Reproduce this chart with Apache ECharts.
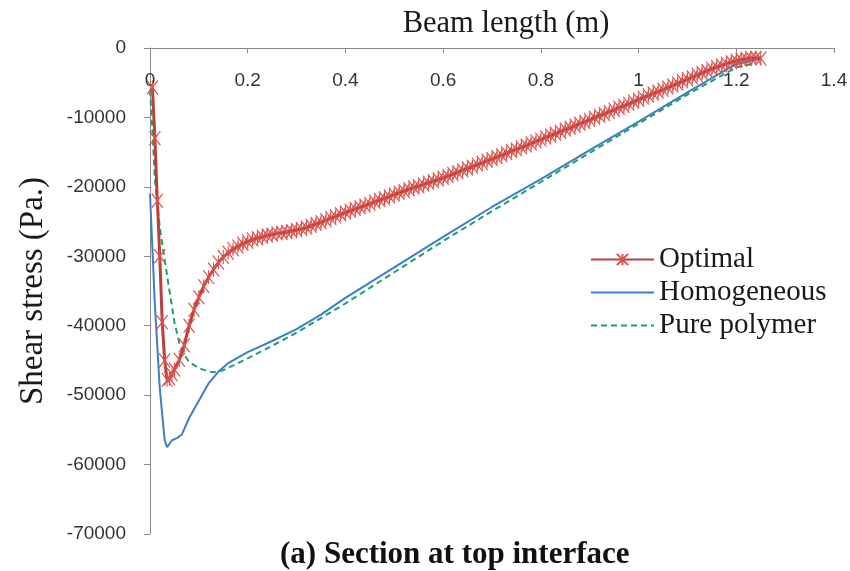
<!DOCTYPE html>
<html>
<head>
<meta charset="utf-8">
<script src="https://cdn.jsdelivr.net/npm/echarts@6/dist/echarts.min.js"></script>
<style>html,body{margin:0;padding:0;background:#fff}#chart{width:850px;height:571px}</style>
</head>
<body>
<div id="chart"></div>
<script>
// ---- Data ----
const seriesNames = ['Optimal', 'Homogeneous', 'Pure polymer'];
const xTickLabels = ['0', '0.2', '0.4', '0.6', '0.8', '1', '1.2', '1.4'];
const yTickLabels = ['0', '-10000', '-20000', '-30000', '-40000', '-50000', '-60000', '-70000'];

const optimalX = [0.005,0.01,0.015,0.02,0.025,0.03,0.035,0.04,0.045,0.05,
  0.06,0.07,0.08,0.09,0.10,0.11,0.12,0.13,0.14,0.15,0.16,0.17,0.18,0.19,0.20,
  0.21,0.22,0.23,0.24,0.25,0.26,0.27,0.28,0.29,0.30,0.31,0.32,0.33,0.34,0.35,
  0.36,0.37,0.38,0.39,0.40,0.41,0.42,0.43,0.44,0.45,0.46,0.47,0.48,0.49,0.50,
  0.51,0.52,0.53,0.54,0.55,0.56,0.57,0.58,0.59,0.60,0.61,0.62,0.63,0.64,0.65,
  0.66,0.67,0.68,0.69,0.70,0.71,0.72,0.73,0.74,0.75,0.76,0.77,0.78,0.79,0.80,
  0.81,0.82,0.83,0.84,0.85,0.86,0.87,0.88,0.89,0.90,0.91,0.92,0.93,0.94,0.95,
  0.96,0.97,0.98,0.99,1.00,1.01,1.02,1.03,1.04,1.05,1.06,1.07,1.08,1.09,1.10,
  1.11,1.12,1.13,1.14,1.15,1.16,1.17,1.18,1.19,1.20,1.21,1.22,1.23,1.24,1.25];
const optimalY = [-5700,-13000,-22000,-30000,-39500,-45000,-47800,-47600,-47000,-46300,
  -44900,-42800,-40000,-37700,-35900,-34300,-33000,-31900,-30900,-30100,-29500,-29000,-28600,-28200,-27900,
  -27600,-27400,-27200,-27000,-26850,-26700,-26600,-26500,-26350,-26200,-26050,-25850,-25600,-25350,-25100,
  -24800,-24500,-24250,-23950,-23700,-23450,-23200,-22950,-22700,-22450,-22150,-21900,-21650,-21400,-21100,
  -20850,-20600,-20350,-20100,-19900,-19650,-19400,-19200,-18950,-18700,-18450,-18150,-17900,-17600,-17350,
  -17100,-16800,-16550,-16250,-16000,-15700,-15450,-15150,-14850,-14600,-14300,-14050,-13750,-13450,-13200,
  -12900,-12600,-12350,-12050,-11750,-11500,-11200,-10900,-10650,-10350,-10050,-9750,-9500,-9200,-8900,
  -8600,-8350,-8050,-7750,-7450,-7150,-6850,-6550,-6300,-6000,-5700,-5400,-5100,-4800,-4500,
  -4200,-3900,-3600,-3300,-3000,-2750,-2500,-2250,-2050,-1850,-1700,-1550,-1450,-1400,-1500];

const homX = [0,0.01,0.02,0.03,0.035,0.045,0.055,0.065,0.08,0.1,0.12,0.14,0.16,0.18,0.2,0.25,0.3,0.35,0.4,0.5,0.6,0.7,0.8,0.9,1.0,1.1,1.2,1.25];
const homY = [-21000,-37000,-49000,-56500,-57500,-56500,-56200,-55700,-53300,-50800,-48300,-46600,-45400,-44600,-43800,-42200,-40500,-38400,-36000,-31600,-27200,-22900,-18900,-14700,-10600,-6400,-2300,-1500];

const polyX = [0,0.005,0.01,0.02,0.03,0.04,0.05,0.06,0.07,0.08,0.1,0.12,0.13,0.15,0.18,0.2,0.25,0.3,0.35,0.4,0.5,0.6,0.7,0.8,0.9,1.0,1.1,1.2,1.24];
const polyY = [-6000,-12000,-19000,-25800,-30500,-35000,-39500,-42500,-44200,-45200,-46100,-46600,-46700,-46400,-45400,-44700,-42900,-41000,-38900,-36800,-32300,-27800,-23500,-19300,-15100,-10900,-6700,-2800,-2200];

const zip = (xs, ys) => xs.map((x, i) => [x, ys[i]]);

const chart = echarts.init(document.getElementById('chart'), null, {renderer: 'canvas'});
const axisGray = '#8a8a8a';
const labelFont = {fontFamily: 'Liberation Sans', fontSize: 19, color: '#333'};
const hiddenSymbol = {color: 'rgba(0,0,0,0)', borderColor: 'rgba(0,0,0,0)', borderWidth: 0};

chart.setOption({
  animation: false,
  backgroundColor: '#fff',
  title: {
    text: '(a) Section at top interface',
    left: 280, top: 539, padding: 0,
    textStyle: {fontFamily: 'Liberation Serif', fontWeight: 'bold', fontSize: 31, color: '#111'}
  },
  legend: {
    orient: 'vertical', left: 585, top: 240,
    itemWidth: 63, itemHeight: 14, itemGap: 4,
    data: [
      {name: seriesNames[0]},
      {name: seriesNames[1], itemStyle: hiddenSymbol},
      {name: seriesNames[2], itemStyle: hiddenSymbol}
    ],
    textStyle: {fontFamily: 'Liberation Serif', fontSize: 29, color: '#1a1a1a', lineHeight: 29}
  },
  grid: {left: 150, right: 16, top: 48, bottom: 37, outerBoundsMode: 'none', containLabel: false},
  xAxis: {
    type: 'value', position: 'top', min: 0, max: 1.4, interval: 0.2,
    name: 'Beam length (m)', nameLocation: 'middle', nameGap: 9,
    nameTextStyle: {fontFamily: 'Liberation Serif', fontSize: 30.5, color: '#1a1a1a', padding: [0, 0, 0, 28]},
    axisLine: {onZero: false, lineStyle: {color: axisGray}},
    axisTick: {inside: true, length: 5, lineStyle: {color: axisGray}},
    axisLabel: Object.assign({inside: true, margin: 23, showMinLabel: true, showMaxLabel: true,
      formatter: (v) => xTickLabels[Math.round(v / 0.2)]}, labelFont),
    splitLine: {show: false}
  },
  yAxis: {
    type: 'value', min: -70000, max: 0, interval: 10000,
    name: 'Shear stress (Pa.)', nameLocation: 'middle', nameGap: 100, nameRotate: 90,
    nameTextStyle: {fontFamily: 'Liberation Serif', fontSize: 33, color: '#1a1a1a'},
    axisLine: {show: true, onZero: false, lineStyle: {color: axisGray}},
    axisTick: {show: true, length: 6, lineStyle: {color: axisGray}},
    axisLabel: Object.assign({margin: 24,
      formatter: (v) => yTickLabels[Math.round(-v / 10000)]}, labelFont),
    splitLine: {show: false}
  },
  series: [
    {
      name: seriesNames[0], type: 'line', z: 5, clip: false,
      data: zip(optimalX, optimalY),
      symbol: 'path://M0,0L10,12M10,0L0,12M5,0L5,12', symbolSize: [11, 14],
      lineStyle: {color: '#b8403c', width: 3},
      itemStyle: {color: '#d9504c', borderColor: '#d9504c', borderWidth: 1.2}
    },
    {
      name: seriesNames[1], type: 'line', z: 3, clip: false,
      data: zip(homX, homY), symbol: 'none',
      lineStyle: {color: '#3a7fcb', width: 2},
      itemStyle: {color: '#3a7fcb'}
    },
    {
      name: seriesNames[2], type: 'line', z: 4, clip: false,
      data: zip(polyX, polyY), symbol: 'none',
      lineStyle: {color: '#20a065', width: 2, type: [6, 4]},
      itemStyle: {color: '#20a065'}
    }
  ]
});
</script>
</body>
</html>
